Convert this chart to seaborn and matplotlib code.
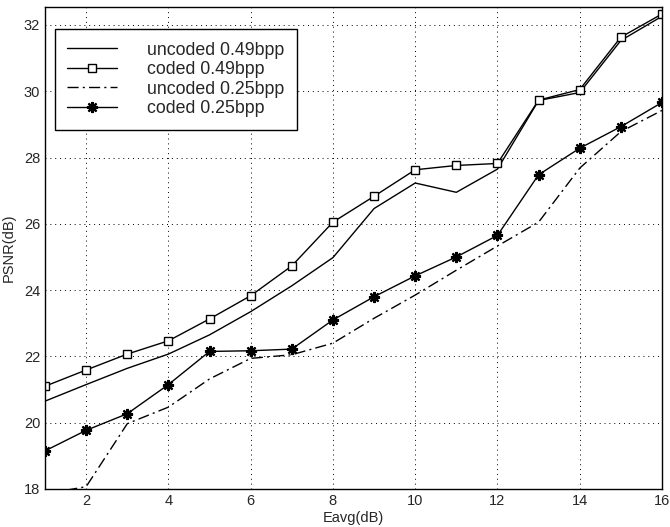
import numpy as np
import pandas as pd
import matplotlib
matplotlib.use("Agg")
import matplotlib.pyplot as plt
import seaborn as sns

eavg = [1, 2, 3, 4, 5, 6, 7, 8, 9, 10, 11, 12, 13, 14, 15, 16]
uncoded_049 = [20.65, 21.15, 21.64, 22.07, 22.65, 23.35, 24.13, 24.98, 26.46, 27.23, 26.95, 27.65, 29.72, 29.96, 31.53, 32.26]
coded_049 = [21.1, 21.59, 22.07, 22.47, 23.13, 23.83, 24.73, 26.05, 26.83, 27.63, 27.76, 27.82, 29.73, 30.05, 31.63, 32.33]
uncoded_025 = [17.85, 18.07, 19.97, 20.47, 21.32, 21.94, 22.05, 22.4, 23.15, 23.85, 24.6, 25.33, 26.05, 27.68, 28.78, 29.42]
coded_025 = [19.15, 19.77, 20.27, 21.15, 22.15, 22.17, 22.22, 23.1, 23.8, 24.43, 25.0, 25.65, 27.48, 28.28, 28.93, 29.66]

labels = ["uncoded 0.49bpp", "coded 0.49bpp", "uncoded 0.25bpp", "coded 0.25bpp"]
xticks = [2, 4, 6, 8, 10, 12, 14, 16]
yticks = [18, 20, 22, 24, 26, 28, 30, 32]

sns.set_style("white")
plt.rcParams['font.family'] = ['Liberation Sans', 'DejaVu Sans']

fig = plt.figure(figsize=(6.7, 5.27), dpi=100)
ax = fig.add_axes([45/670, 1-489/527, (662-45)/670, (489-7)/527])

series = [uncoded_049, coded_049, uncoded_025, coded_025]
styles = [
    dict(linestyle='-', marker=None),
    dict(linestyle='-', marker='s', markersize=6, markerfacecolor='white', markeredgecolor='black', markeredgewidth=1.0),
    dict(linestyle=(0, (8, 3, 1.5, 3)), marker=None),
    dict(linestyle='-', marker=(8, 2, 0), markersize=8, markerfacecolor='black', markeredgecolor='black', markeredgewidth=1.6),
]
for vals, lab, st in zip(series, labels, styles):
    df = pd.DataFrame({"x": eavg, "y": vals})
    sns.lineplot(data=df, x="x", y="y", ax=ax, color='black', linewidth=1.0, label=lab, **st)

ax.set_xlim(1, 16)
ax.set_ylim(18, 32.54)
ax.set_xticks(xticks)
ax.set_yticks(yticks)
ax.grid(True, color='black', linestyle=(0, (1, 4)), linewidth=0.7)
ax.tick_params(direction='in', length=5, labelsize=10.5, color='black')
for s in ax.spines.values():
    s.set_color('black')
    s.set_linewidth(1.0)
ax.set_xlabel("Eavg(dB)", fontsize=10.5, labelpad=2)
ax.set_ylabel("PSNR(dB)", fontsize=10.5, labelpad=6)

leg = ax.legend(loc='upper left', bbox_to_anchor=(0.0162, 0.954), borderaxespad=0, fontsize=12.8,
                frameon=True, fancybox=False, edgecolor='black', framealpha=1,
                handlelength=2.8, handletextpad=1.7, borderpad=0.7, labelspacing=0.14)
leg.get_frame().set_linewidth(1.0)

fig.savefig("out.png", dpi=100)
